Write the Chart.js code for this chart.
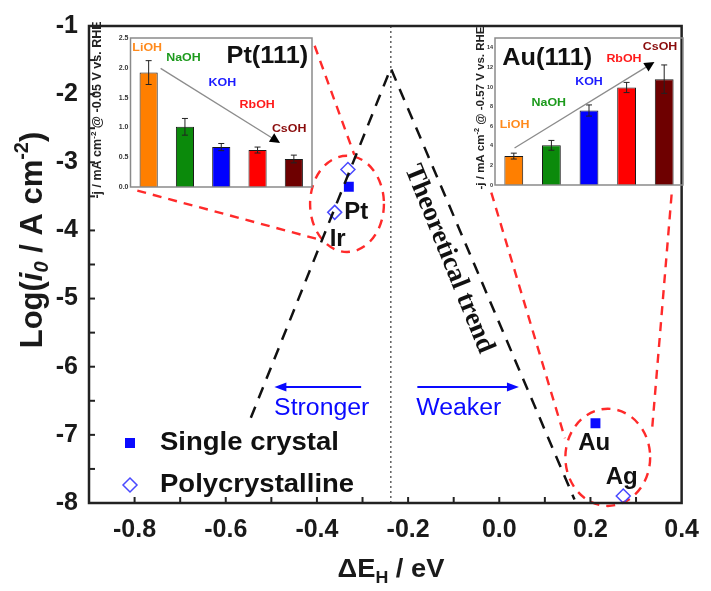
<!DOCTYPE html>
<html>
<head>
<meta charset="UTF-8">
<title>Log(i0) vs ΔEH</title>
<script src="https://cdn.jsdelivr.net/npm/chart.js"></script>
<style>
  html, body { margin: 0; padding: 0; background: #fff; }
  #wrap { position: relative; width: 711px; height: 591px; }
  #wrap canvas { position: absolute; }
</style>
</head>
<body>
<div id="wrap">
  <canvas id="mainChart" width="711" height="591" style="left:0;top:0"></canvas>
  <canvas id="ptChart" width="232" height="180" style="left:88px;top:20px"></canvas>
  <canvas id="auChart" width="226" height="180" style="left:464px;top:20px"></canvas>
</div>

<script>
// ---- data ----
const singleX = [-0.330, 0.211];          // Pt, Au (single crystal)
const singleY = [-3.36, -6.83];
const polyX = [-0.332, -0.361, 0.272];    // Pt, Ir, Ag (polycrystalline)
const polyY = [-3.105, -3.735, -7.898];
const trendX = [-0.545, -0.238, 0.165];   // theoretical volcano
const trendY = [-6.75, -1.62, -7.95];
const apexX = -0.238;

const xTickLabels = ['-0.8', '-0.6', '-0.4', '-0.2', '0.0', '0.2', '0.4'];
const yTickLabels = ['-1', '-2', '-3', '-4', '-5', '-6', '-7', '-8'];

const alkali = ['LiOH', 'NaOH', 'KOH', 'RbOH', 'CsOH'];
const ptJ = [1.92, 1.01, 0.67, 0.62, 0.47];
const ptErr = [0.20, 0.14, 0.06, 0.05, 0.065];
const auJ = [2.95, 4.05, 7.6, 9.95, 10.8];
const auErr = [0.3, 0.5, 0.57, 0.52, 1.45];

const barColors = ['#ff7f00', '#0b8a0b', '#0000ff', '#ff0000', '#6e0000'];
const labelColors = ['#ff8a1c', '#1c9a1c', '#1a1aff', '#ff1a1a', '#8a0c0c'];

const SANS = '"Liberation Sans", Arial, Helvetica, sans-serif';
const SERIF = '"Liberation Serif", "Times New Roman", serif';
const BLUE = '#0a0aff';

// annotation placement (data units of the main axes)
const circles = [
  { x: -0.334, y: -3.61, rx: 0.081, ry: 0.706 },
  { x: 0.238, y: -7.33, rx: 0.093, ry: 0.713 }
];
const links = [
  [-0.405, -1.29, -0.318, -2.89],
  [-0.794, -3.415, -0.3895, -4.143],
  [-0.0175, -3.444, 0.144, -7.05],
  [0.378, -3.473, 0.335, -6.937]
];

// ---- helpers ----
function txt(ctx, s, x, y, font, color, align, rot, sx) {
  ctx.save();
  ctx.translate(x, y);
  if (rot) ctx.rotate(rot);
  ctx.scale(sx || 1, 1);
  ctx.font = font;
  ctx.fillStyle = color;
  ctx.textAlign = align || 'center';
  ctx.textBaseline = 'middle';
  ctx.fillText(s, 0, 0);
  ctx.restore();
}

// parts: {t, font, dy}; drawn centred on (x, y)
function rich(ctx, parts, x, y, rot, color, sx) {
  ctx.save();
  ctx.translate(x, y);
  if (rot) ctx.rotate(rot);
  ctx.scale(sx || 1, 1);
  ctx.fillStyle = color;
  ctx.textAlign = 'left';
  ctx.textBaseline = 'alphabetic';
  let w = 0;
  parts.forEach(p => { ctx.font = p.font; p.w = ctx.measureText(p.t).width; w += p.w; });
  let cx = -w / 2;
  parts.forEach(p => { ctx.font = p.font; ctx.fillText(p.t, cx, p.dy); cx += p.w; });
  ctx.restore();
}

function arrow(ctx, x1, y1, x2, y2, lineColor, lw, headLen, headW, headColor) {
  const a = Math.atan2(y2 - y1, x2 - x1);
  ctx.save();
  ctx.strokeStyle = lineColor;
  ctx.lineWidth = lw;
  ctx.setLineDash([]);
  ctx.beginPath();
  ctx.moveTo(x1, y1);
  ctx.lineTo(x2 - Math.cos(a) * headLen * 0.6, y2 - Math.sin(a) * headLen * 0.6);
  ctx.stroke();
  ctx.fillStyle = headColor;
  ctx.beginPath();
  ctx.moveTo(x2, y2);
  ctx.lineTo(x2 - Math.cos(a) * headLen - Math.sin(a) * headW, y2 - Math.sin(a) * headLen + Math.cos(a) * headW);
  ctx.lineTo(x2 - Math.cos(a) * headLen + Math.sin(a) * headW, y2 - Math.sin(a) * headLen - Math.cos(a) * headW);
  ctx.closePath();
  ctx.fill();
  ctx.restore();
}

// ---- main chart decorations ----
const mainDeco = {
  id: 'mainDeco',
  beforeDatasetsDraw(chart) {
    const ctx = chart.ctx, sx = chart.scales.x, sy = chart.scales.y;
    ctx.save();
    ctx.strokeStyle = '#ff2a2a';
    ctx.lineWidth = 2.4;
    ctx.setLineDash([9, 7]);
    circles.forEach(c => {
      const cx = sx.getPixelForValue(c.x), cy = sy.getPixelForValue(c.y);
      const rx = Math.abs(sx.getPixelForValue(c.x + c.rx) - cx);
      const ry = Math.abs(sy.getPixelForValue(c.y + c.ry) - cy);
      ctx.beginPath();
      ctx.ellipse(cx, cy, rx, ry, 0, 0, Math.PI * 2);
      ctx.stroke();
    });
    links.forEach(l => {
      ctx.beginPath();
      ctx.moveTo(sx.getPixelForValue(l[0]), sy.getPixelForValue(l[1]));
      ctx.lineTo(sx.getPixelForValue(l[2]), sy.getPixelForValue(l[3]));
      ctx.stroke();
    });
    ctx.restore();
  },
  afterDatasetsDraw(chart) {
    const ctx = chart.ctx, sx = chart.scales.x, sy = chart.scales.y;
    const X = v => sx.getPixelForValue(v), Y = v => sy.getPixelForValue(v);
    const bold24 = 'bold 24px ' + SANS;
    txt(ctx, 'Pt', X(-0.340), Y(-3.735), bold24, '#111', 'left');
    txt(ctx, 'Ir', X(-0.372), Y(-4.124), bold24, '#111', 'left');
    txt(ctx, 'Au', X(0.173), Y(-7.127), bold24, '#111', 'left');
    txt(ctx, 'Ag', X(0.2335), Y(-7.622), bold24, '#111', 'left');

    arrow(ctx, X(-0.303), Y(-6.297), X(-0.4933), Y(-6.297), BLUE, 2, 12, 4.5, BLUE);
    arrow(ctx, X(-0.1797), Y(-6.297), X(0.0431), Y(-6.297), BLUE, 2, 12, 4.5, BLUE);
    txt(ctx, 'Stronger', X(-0.3895), Y(-6.617), '23px ' + SANS, BLUE, 'center', 0, 1.08);
    txt(ctx, 'Weaker', X(-0.0888), Y(-6.617), '23px ' + SANS, BLUE, 'center', 0, 1.08);

    txt(ctx, 'Theoretical trend', X(-0.1105), Y(-4.42), 'bold 27px ' + SERIF, '#111', 'center', 68 * Math.PI / 180);
  },
  afterDraw(chart) {
    const ctx = chart.ctx, a = chart.chartArea, sx = chart.scales.x, sy = chart.scales.y;
    ctx.save();
    ctx.strokeStyle = '#222';
    ctx.lineWidth = 2;
    sx.ticks.forEach(t => {
      const p = sx.getPixelForValue(t.value);
      if (p <= a.left + 1 || p >= a.right - 1) return;
      ctx.beginPath(); ctx.moveTo(p, a.bottom); ctx.lineTo(p, a.bottom - 6); ctx.stroke();
    });
    sy.ticks.forEach(t => {
      const p = sy.getPixelForValue(t.value);
      if (p <= a.top + 1 || p >= a.bottom - 1) return;
      ctx.beginPath(); ctx.moveTo(a.left, p); ctx.lineTo(a.left + 6, p); ctx.stroke();
    });
    ctx.lineWidth = 2.5;
    ctx.strokeRect(a.left, a.top, a.right - a.left, a.bottom - a.top);
    ctx.restore();

    // legend
    ctx.save();
    ctx.fillStyle = BLUE;
    ctx.fillRect(125, 438, 10, 10);
    ctx.strokeStyle = '#4a4aff';
    ctx.lineWidth = 1.5;
    ctx.beginPath();
    ctx.moveTo(130, 478); ctx.lineTo(137, 485); ctx.lineTo(130, 492); ctx.lineTo(123, 485); ctx.closePath();
    ctx.stroke();
    ctx.restore();
    txt(ctx, 'Single crystal', 160, 443, 'bold 25px ' + SANS, '#111', 'left', 0, 1.1);
    txt(ctx, 'Polycrystalline', 160, 485, 'bold 25px ' + SANS, '#111', 'left', 0, 1.1);

    // axis titles
    const f31 = 'bold 31px ' + SANS, f20 = 'bold 20px ' + SANS;
    rich(ctx, [
      { t: 'Log(', font: f31, dy: 11 },
      { t: 'i', font: 'italic bold 31px ' + SANS, dy: 11 },
      { t: '0', font: 'italic ' + f20, dy: 17 },
      { t: ' / A cm', font: f31, dy: 11 },
      { t: '-2', font: f20, dy: -3 },
      { t: ')', font: f31, dy: 11 }
    ], 31, 240, -Math.PI / 2, '#1a1a1a');
    const f26 = 'bold 26px ' + SANS, f17 = 'bold 17px ' + SANS;
    rich(ctx, [
      { t: '\u0394E', font: f26, dy: 9 },
      { t: 'H', font: f17, dy: 15 },
      { t: ' / eV', font: f26, dy: 9 }
    ], 391, 568, 0, '#1a1a1a', 1.05);
  }
};

new Chart(document.getElementById('mainChart'), {
  type: 'scatter',
  data: {
    datasets: [
      {
        label: 'Theoretical trend',
        data: trendX.map((x, i) => ({ x, y: trendY[i] })),
        showLine: true, borderColor: '#111', borderWidth: 2.5, borderDash: [12, 9],
        pointRadius: 0, fill: false
      },
      {
        label: 'apex',
        data: [{ x: apexX, y: -1 }, { x: apexX, y: -8 }],
        showLine: true, borderColor: '#666', borderWidth: 1.6, borderDash: [2, 3],
        pointRadius: 0, fill: false
      },
      {
        label: 'Single crystal',
        data: singleX.map((x, i) => ({ x, y: singleY[i] })),
        pointStyle: 'rect', pointRadius: 7, backgroundColor: BLUE, borderColor: BLUE, borderWidth: 0
      },
      {
        label: 'Polycrystalline',
        data: polyX.map((x, i) => ({ x, y: polyY[i] })),
        pointStyle: 'rectRot', pointRadius: 7, backgroundColor: 'rgba(255,255,255,0)',
        borderColor: '#4a4aff', borderWidth: 1.5
      }
    ]
  },
  options: {
    responsive: false,
    animation: false,
    devicePixelRatio: 1,
    events: [],
    layout: { padding: { top: 22, right: 21, left: 0, bottom: 0 } },
    plugins: { legend: { display: false }, tooltip: { enabled: false } },
    scales: {
      x: {
        type: 'linear', min: -0.9, max: 0.4,
        grid: { display: false, drawTicks: false },
        border: { display: false },
        ticks: {
          stepSize: 0.1, autoSkip: false, maxRotation: 0, padding: 12,
          color: '#1a1a1a', font: { family: SANS, size: 25, weight: 'bold' },
          callback: v => {
            const s = (Math.abs(v) < 1e-9 ? 0 : v).toFixed(1);
            return xTickLabels.includes(s) ? s : '';
          }
        },
        afterFit: s => { s.height = 88; }
      },
      y: {
        type: 'linear', min: -8, max: -1,
        grid: { display: false, drawTicks: false },
        border: { display: false },
        ticks: {
          stepSize: 0.5, autoSkip: false, padding: 11,
          color: '#1a1a1a', font: { family: SANS, size: 25, weight: 'bold' },
          callback: v => {
            const s = String(Math.round(v));
            return Math.abs(v - Math.round(v)) < 1e-9 && yTickLabels.includes(s) ? s : '';
          }
        },
        afterFit: s => { s.width = 89; }
      }
    }
  },
  plugins: [mainDeco]
});

// ---- insets ----
function insetPlugin(cfg) {
  return {
    id: 'insetDeco',
    afterDatasetsDraw(chart) {
      const ctx = chart.ctx, a = chart.chartArea, sx = chart.scales.x, sy = chart.scales.y;
      ctx.save();
      ctx.strokeStyle = '#8a8a8a';
      ctx.lineWidth = 1.5;
      ctx.strokeRect(a.left, a.top, a.right - a.left, a.bottom - a.top);
      ctx.strokeStyle = '#222';
      ctx.lineWidth = 1;
      cfg.values.forEach((v, i) => {
        const px = sx.getPixelForValue(i);
        const t = sy.getPixelForValue(v + cfg.errs[i]), b = sy.getPixelForValue(v - cfg.errs[i]);
        ctx.beginPath();
        ctx.moveTo(px, t); ctx.lineTo(px, b);
        ctx.moveTo(px - 3, t); ctx.lineTo(px + 3, t);
        ctx.moveTo(px - 3, b); ctx.lineTo(px + 3, b);
        ctx.stroke();
      });
      ctx.restore();

      const ar = cfg.arrow;
      arrow(ctx, sx.getPixelForValue(ar[0]), sy.getPixelForValue(ar[1]),
        sx.getPixelForValue(ar[2]), sy.getPixelForValue(ar[3]), '#8c8c8c', 1.3, 10, 5, '#000');

      cfg.labels.forEach((p, i) => {
        txt(ctx, alkali[i], sx.getPixelForValue(p[0]), sy.getPixelForValue(p[1]),
          'bold 11.5px ' + SANS, labelColors[i], 'center', 0, 1.08);
      });
      txt(ctx, cfg.title, sx.getPixelForValue(cfg.titlePos[0]), sy.getPixelForValue(cfg.titlePos[1]),
        'bold 23px ' + SANS, '#111', 'center', 0, 1.1);

      const fs = cfg.yFont, fb = 'bold ' + fs + 'px ' + SANS, fsup = 'bold ' + (fs * 0.65) + 'px ' + SANS;
      rich(ctx, [
        { t: '-j / mA cm', font: fb, dy: fs * 0.35 },
        { t: '-2', font: fsup, dy: -fs * 0.1 },
        { t: ' @ ' + cfg.potential + ' V vs. RHE', font: fb, dy: fs * 0.35 }
      ], cfg.yTitleX, cfg.yTitleY, -Math.PI / 2, '#222');
    }
  };
}

function makeInset(id, values, errs, yMax, step, digits, tickSize, pad, yWidth, cfg) {
  cfg.values = values;
  cfg.errs = errs;
  return new Chart(document.getElementById(id), {
    type: 'bar',
    data: {
      labels: alkali,
      datasets: [{
        data: values, backgroundColor: barColors, borderColor: '#1a1a1a', borderWidth: 1,
        barPercentage: 0.5, categoryPercentage: 1
      }]
    },
    options: {
      responsive: false, animation: false, devicePixelRatio: 1, events: [],
      layout: { padding: pad },
      plugins: { legend: { display: false }, tooltip: { enabled: false } },
      scales: {
        x: { display: false },
        y: {
          min: 0, max: yMax,
          grid: { display: false, drawTicks: false },
          border: { display: false },
          ticks: {
            stepSize: step, padding: 2, color: '#333',
            font: { family: SANS, size: tickSize, weight: 'bold' },
            callback: v => (Math.abs(v / step - Math.round(v / step)) < 1e-6 ? v.toFixed(digits) : '')
          },
          afterFit: s => { s.width = yWidth; }
        }
      }
    },
    plugins: [insetPlugin(cfg)]
  });
}

makeInset('ptChart', ptJ, ptErr, 2.5, 0.5, 1, 7, { top: 18, right: 8, bottom: 13, left: 0 }, 42.5, {
  title: 'Pt(111)', titlePos: [3.27, 2.19], potential: '-0.05',
  arrow: [0.33, 1.99, 3.62, 0.74],
  labels: [[-0.04, 2.33], [0.96, 2.16], [2.03, 1.74], [2.99, 1.375], [3.87, 0.97]],
  yFont: 12.5, yTitleX: 9, yTitleY: 90
});

makeInset('auChart', auJ, auErr, 15, 2, 0, 5.5, { top: 18, right: 7, bottom: 15, left: 0 }, 31, {
  title: 'Au(111)', titlePos: [0.89, 12.93], potential: '-0.57',
  arrow: [0.02, 3.78, 3.74, 12.55],
  labels: [[0.02, 6.15], [0.93, 8.43], [2.0, 10.5], [2.93, 12.86], [3.89, 14.14]],
  yFont: 11.5, yTitleX: 16, yTitleY: 88
});
</script>
</body>
</html>
